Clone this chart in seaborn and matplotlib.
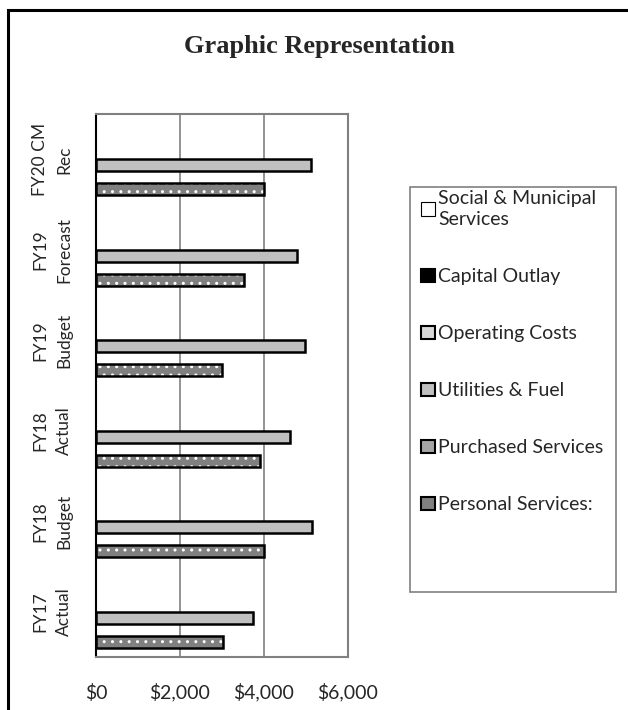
import numpy as np
import pandas as pd
import seaborn as sns
import matplotlib.pyplot as plt
from matplotlib.patches import Patch, Rectangle
from matplotlib.ticker import FuncFormatter

# data
categories = ["FY20 CM Rec", "FY19 Forecast", "FY19 Budget", "FY18 Actual", "FY18 Budget", "FY17 Actual"]
tick_labels = ["FY20 CM\nRec", "FY19\nForecast", "FY19\nBudget", "FY18\nActual", "FY18\nBudget", "FY17\nActual"]
series = ["Social & Municipal Services", "Capital Outlay", "Operating Costs",
          "Utilities & Fuel", "Purchased Services", "Personal Services:"]
social = [0, 0, 0, 0, 0, 0]
capital = [0, 0, 0, 0, 0, 0]
operating = [0, 0, 0, 0, 0, 0]
utilities = [5130, 4780, 4970, 4630, 5140, 3740]
purchased = [0, 0, 0, 0, 0, 0]
personal = [4000, 3520, 3000, 3900, 4000, 3020]
x_ticks = [0, 2000, 4000, 6000]

colors = {"Social & Municipal Services": "#FFFFFF", "Capital Outlay": "#000000",
          "Operating Costs": "#D9D9D9", "Utilities & Fuel": "#C0C0C0",
          "Purchased Services": "#A6A6A6", "Personal Services:": "#808080"}


def build_frame():
    values = [social, capital, operating, utilities, purchased, personal]
    rows = []
    for name, vals in zip(series, values):
        for cat, v in zip(categories, vals):
            rows.append({"category": cat, "series": name, "value": v})
    return pd.DataFrame(rows)


def main():
    sns.set_style("white")
    plt.rcParams["font.family"] = ["Lato", "DejaVu Sans"]
    plt.rcParams["hatch.linewidth"] = 1.0

    df = build_frame()
    fig = plt.figure(figsize=(6.28, 7.10), dpi=100)
    ax = fig.add_axes([96 / 628, 1 - 657 / 710, 252 / 628, 543 / 710])

    sns.barplot(data=df, y="category", x="value", hue="series", order=categories,
                hue_order=series, palette=colors, orient="h", width=0.8,
                edgecolor="black", linewidth=1.8, legend=False, ax=ax)

    # zero-length bars: no outline
    for p in ax.patches:
        if p.get_width() == 0:
            p.set_linewidth(0)

    # dotted fill on personal services bars, outline redrawn on top
    for p in ax.containers[-1]:
        p.set_hatch("..")
        p.set_edgecolor("white")
        p.set_linewidth(0)
        ax.add_patch(Rectangle(p.get_xy(), p.get_width(), p.get_height(), fill=False,
                               edgecolor="black", linewidth=1.8, zorder=p.get_zorder() + 0.1))

    ax.set_xlim(0, 6000)
    ax.set_xticks(x_ticks)
    ax.xaxis.set_major_formatter(FuncFormatter(lambda v, pos: f"${v:,.0f}"))
    ax.grid(axis="x", color="#808080", linewidth=1.2)
    ax.set_axisbelow(True)
    ax.set_xlabel("")
    ax.set_ylabel("")

    ax.set_yticks(range(len(categories)))
    ax.set_yticklabels(tick_labels, rotation=90, va="center", ma="center", linespacing=1.65)
    ax.set_yticks(np.arange(-0.5, len(categories)), minor=True)
    ax.tick_params(axis="y", which="major", length=0, pad=17, labelsize=12.5)
    ax.tick_params(axis="y", which="minor", length=10, direction="inout", width=1.2, color="black")
    ax.tick_params(axis="x", length=7, direction="out", width=1, color="#808080",
                   labelsize=14, pad=23)
    for lab in ax.get_xticklabels():
        lab.set_verticalalignment("baseline")

    for side in ["top", "right", "bottom"]:
        ax.spines[side].set_color("#808080")
        ax.spines[side].set_linewidth(1.5)
    ax.spines["left"].set_color("black")
    ax.spines["left"].set_linewidth(1.5)

    fig.text(0.508, 1 - 53 / 710, "Graphic Representation", ha="center", va="baseline",
             fontsize=19, fontweight="bold", family="Liberation Serif")

    # legend
    handles = []
    for name in series:
        lw = 0.8 if name == "Social & Municipal Services" else 1.5
        handles.append(Patch(facecolor=colors[name], edgecolor="black", linewidth=lw))
    labels = ["Social & Municipal\nServices", "Capital Outlay", "Operating Costs",
              "Utilities & Fuel", "Purchased Services", "Personal Services:"]
    leg = fig.legend(handles, labels, loc="upper left", bbox_to_anchor=(421 / 628, 1 - 190 / 710),
                     frameon=False, borderpad=0, borderaxespad=0, fontsize=14,
                     handlelength=0.7, handleheight=0.7, handletextpad=0.2, labelspacing=2.06)
    leg.get_texts()[0].set_linespacing(1.3)
    fig.add_artist(Rectangle((410 / 628, 1 - 592 / 710), 206 / 628, 405 / 710,
                             transform=fig.transFigure, fill=False,
                             edgecolor="#808080", linewidth=1.2))

    # outer frame (runs off the right and bottom edges)
    fig.add_artist(Rectangle((8 / 628, -0.2), 1.2, 1.2 - 10 / 710,
                             transform=fig.transFigure, fill=False,
                             edgecolor="black", linewidth=2.2, clip_on=False))

    fig.savefig("out.png", dpi=100)


if __name__ == "__main__":
    main()
